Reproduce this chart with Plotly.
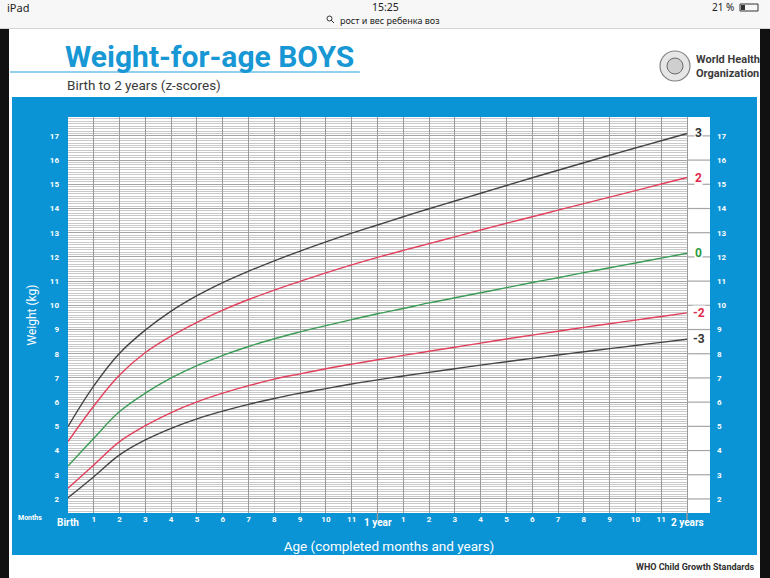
import plotly.graph_objects as go

# WHO weight-for-age, boys, birth to 2 years (kg)
months = list(range(25))
sd3neg = [2.05, 2.92, 3.82, 4.44, 4.92, 5.31, 5.63, 5.91, 6.15, 6.37, 6.56, 6.75, 6.92,
          7.08, 7.23, 7.38, 7.53, 7.67, 7.81, 7.95, 8.08, 8.21, 8.34, 8.47, 8.60]
sd2neg = [2.44, 3.40, 4.37, 5.03, 5.57, 6.01, 6.37, 6.68, 6.95, 7.17, 7.38, 7.57, 7.75,
          7.93, 8.10, 8.27, 8.44, 8.61, 8.77, 8.93, 9.09, 9.24, 9.39, 9.54, 9.69]
sd0 = [3.36, 4.51, 5.61, 6.37, 7.00, 7.51, 7.93, 8.30, 8.62, 8.90, 9.16, 9.41, 9.65,
       9.87, 10.10, 10.31, 10.52, 10.73, 10.94, 11.14, 11.35, 11.55, 11.75, 11.95, 12.15]
sd2 = [4.37, 5.84, 7.12, 8.05, 8.73, 9.30, 9.80, 10.24, 10.63, 10.99, 11.34, 11.67, 11.98,
       12.27, 12.55, 12.83, 13.11, 13.39, 13.66, 13.93, 14.20, 14.47, 14.74, 15.01, 15.28]
sd3 = [4.99, 6.67, 8.02, 8.98, 9.76, 10.40, 10.94, 11.41, 11.84, 12.24, 12.62, 12.98, 13.32,
       13.66, 13.99, 14.31, 14.63, 14.95, 15.27, 15.58, 15.89, 16.20, 16.50, 16.80, 17.10]

z_labels = ["3", "2", "0", "-2", "-3"]
weight_ticks = list(range(2, 18))
month_ticks = ["" if m in (0, 12, 24) else str(m % 12) for m in months]
age_marks = {0: "Birth", 12: "1 year", 24: "2 years"}

BLUE = "#0a93d5"
DARK = "#444444"
RED = "#e2405c"
GREEN = "#3a9c55"

series = [(sd3, DARK, "#333333"), (sd2, RED, "#e02a4a"), (sd0, GREEN, "#2c9a44"),
          (sd2neg, RED, "#e02a4a"), (sd3neg, DARK, "#333333")]

# plot area in pixels (770 x 578 page)
L, R, T, B = 68, 710, 117, 513
XMAX = 24 + 23 / 25.79   # white label column after 2 years
YMIN, YMAX = 1.42, 17.78


def px(x):
    return (x - L) / (R - L)


def py(y):
    return (B - y) / (B - T)


fig = go.Figure()
for vals, col, _ in series:
    fig.add_trace(go.Scatter(x=months, y=vals, mode="lines",
                             line=dict(color=col, width=1.4, shape="spline", smoothing=1.1),
                             hoverinfo="skip", showlegend=False))
# empty trace so the right-hand weight axis gets drawn
fig.add_trace(go.Scatter(x=[], y=[], yaxis="y2", showlegend=False, hoverinfo="skip"))

shapes = [
    # status bar
    dict(type="rect", xref="paper", yref="paper", x0=px(0), x1=px(770), y0=py(0), y1=py(28),
         fillcolor="#f7f7f7", line_width=0, layer="below"),
    dict(type="line", xref="paper", yref="paper", x0=px(0), x1=px(770), y0=py(28.5), y1=py(28.5),
         line=dict(color="#d4d4d4", width=1), layer="below"),
    # black edges of the screen
    dict(type="rect", xref="paper", yref="paper", x0=px(0), x1=px(9), y0=py(29), y1=py(578),
         fillcolor="#111111", line_width=0, layer="below"),
    dict(type="rect", xref="paper", yref="paper", x0=px(760), x1=px(770), y0=py(29), y1=py(578),
         fillcolor="#111111", line_width=0, layer="below"),
    # blue panel + white chart area
    dict(type="rect", xref="paper", yref="paper", x0=px(12), x1=px(757), y0=py(97), y1=py(555),
         fillcolor=BLUE, line_width=0, layer="below"),
    dict(type="rect", xref="paper", yref="paper", x0=0, x1=1, y0=0, y1=1,
         fillcolor="white", line_width=0, layer="below"),
    # title underline
    dict(type="line", xref="paper", yref="paper", x0=px(10), x1=px(360), y0=py(72), y1=py(72),
         line=dict(color="#6cc0e8", width=1.5), layer="below"),
    # WHO emblem (simplified)
    dict(type="circle", xref="paper", yref="paper", x0=px(660), x1=px(690), y0=py(51), y1=py(81),
         fillcolor="#e6e6e6", line=dict(color="#808080", width=1.2), layer="below"),
    dict(type="circle", xref="paper", yref="paper", x0=px(667), x1=px(683), y0=py(58), y1=py(74),
         fillcolor="#cfcfcf", line=dict(color="#6a6a6a", width=1), layer="below"),
    # search glass and battery in status bar
    dict(type="circle", xref="paper", yref="paper", x0=px(327), x1=px(332), y0=py(16), y1=py(21),
         line=dict(color="#333", width=1), layer="below"),
    dict(type="line", xref="paper", yref="paper", x0=px(331), x1=px(334), y0=py(20), y1=py(23),
         line=dict(color="#333", width=1), layer="below"),
    dict(type="rect", xref="paper", yref="paper", x0=px(740), x1=px(758), y0=py(4), y1=py(11),
         line=dict(color="#333", width=1), layer="below"),
    dict(type="rect", xref="paper", yref="paper", x0=px(741), x1=px(745), y0=py(5), y1=py(10),
         fillcolor="#333", line_width=0, layer="below"),
    # label column to the right of 2 years
    dict(type="rect", xref="x", yref="paper", x0=24.04, x1=XMAX, y0=0, y1=1,
         fillcolor="white", line_width=0, layer="above"),
]
for w in weight_ticks:
    shapes.append(dict(type="line", xref="x", yref="y", x0=24.04, x1=XMAX, y0=w, y1=w,
                       line=dict(color="#a5a5a5", width=1.2), layer="above"))
for m in (12, 24):
    shapes.append(dict(type="line", xref="x", yref="paper", x0=m, x1=m, y0=py(520), y1=0,
                       line=dict(color="#9a9a9a", width=1.4)))

ann = []
for (vals, _, tcol), lab in zip(series, z_labels):
    ann.append(dict(x=(24 + XMAX) / 2, y=vals[-1], xref="x", yref="y", text="<b>%s</b>" % lab,
                    showarrow=False, font=dict(size=12, color=tcol, family="Roboto"),
                    bgcolor="white", borderpad=0))
for m, t in age_marks.items():
    ann.append(dict(x=m, y=py(530), xref="x", yref="paper", text="<b>%s</b>" % t, showarrow=False,
                    font=dict(size=10, color="white", family="Roboto")))


def text(x, y, s, size, color, anchor="center", bold=False, family="Roboto"):
    ann.append(dict(x=px(x), y=py(y), xref="paper", yref="paper", showarrow=False,
                    text="<b>%s</b>" % s if bold else s, xanchor=anchor, yanchor="middle",
                    font=dict(size=size, color=color, family=family), align="left"))


text(5, 7, "iPad", 11, "#222222", "left", family="Noto Sans")
text(385, 6.5, "15:25", 10.5, "#222222", family="Noto Sans")
text(338, 20.5, "рост и вес ребенка воз", 9, "#222222", "left", family="Noto Sans")
text(736, 7, "21 %", 10, "#222222", "right", family="Noto Sans")
text(63, 56, "Weight-for-age BOYS", 30, "#1797d4", "left", bold=True)
text(65, 85, "Birth to 2 years (z-scores)", 13.5, "#3a3a3a", "left")
text(694, 67, "World Health<br>Organization", 11, "#3c3c3c", "left", bold=True)
text(30, 518, "Months", 7, "white", bold=True)
text(757, 567, "WHO Child Growth Standards", 9, "#2e2e2e", "right", bold=True)

tickfont = dict(size=8, color="white", family="Liberation Sans Narrow, Roboto", weight="bold")

fig.update_layout(
    width=770, height=578,
    margin=dict(l=L, r=770 - R, t=T, b=578 - B),
    paper_bgcolor="white", plot_bgcolor="white",
    font=dict(family="Roboto"),
    shapes=shapes, annotations=ann,
    xaxis=dict(range=[0, XMAX], tickvals=months, ticktext=month_ticks, showgrid=True,
               gridcolor="#9a9a9a", gridwidth=1.4, zeroline=False, showline=False,
               tickfont=tickfont, ticks="", ticklabelstandoff=0,
               title=dict(text="Age (completed months and years)", standoff=18,
                          font=dict(size=13.5, color="white"))),
    yaxis=dict(range=[YMIN, YMAX], tickvals=weight_ticks, showgrid=True,
               gridcolor="#a5a5a5", gridwidth=1.1, zeroline=False, showline=False,
               tickfont=tickfont, ticks="", ticklabelstandoff=8,
               minor=dict(dtick=0.1, tick0=0, showgrid=True, gridcolor="#c9c9c9", gridwidth=0.7),
               title=dict(text="Weight (kg)", standoff=10, font=dict(size=12, color="white"))),
    yaxis2=dict(range=[YMIN, YMAX], tickvals=weight_ticks, overlaying="y", side="right",
                showgrid=False, zeroline=False, showline=False, tickfont=tickfont,
                ticks="", ticklabelstandoff=6),
)

fig.write_html("out.html", config={"displayModeBar": False},
               post_script="document.body.style.margin='0';")
